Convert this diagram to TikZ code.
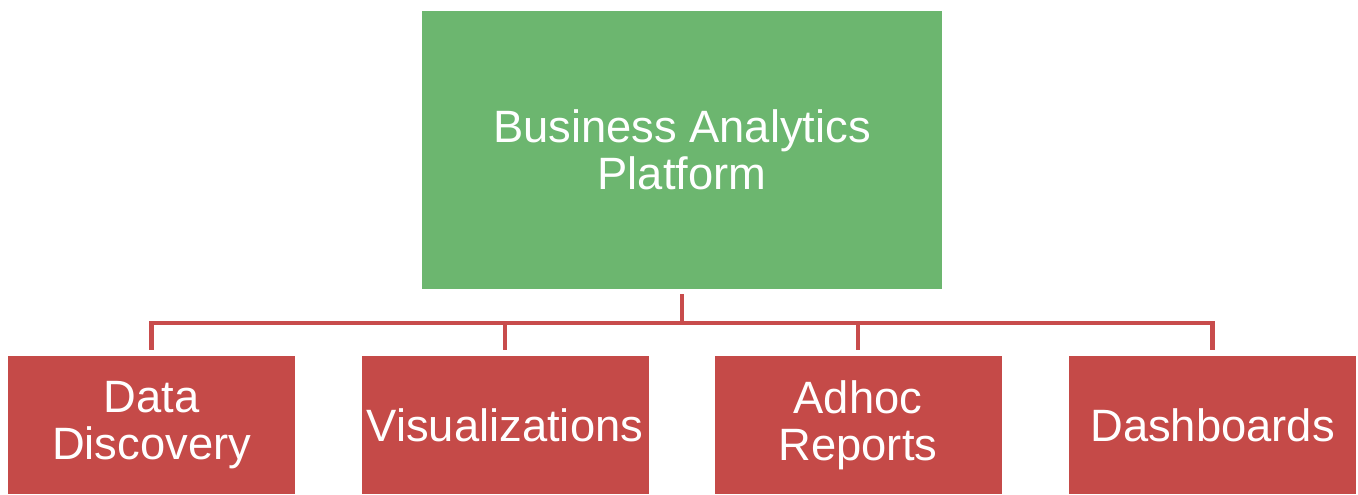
\documentclass[tikz,border=0pt]{standalone}
\usepackage{fontspec}
\setmainfont{Liberation Sans}
\usepackage{xcolor}
\definecolor{boxgreen}{RGB}{108,182,111}
\definecolor{boxred}{RGB}{197,74,72}
\definecolor{linered}{RGB}{200,76,76}
\begin{document}
\begin{tikzpicture}[x=0.75pt,y=-0.75pt]
	\tikzset{every node/.style={align=center,
			text=white,
			inner sep=0pt,
			font=\fontsize{34}{35.5}\selectfont}}
	\tikzset{root/.style = {shape=rectangle,fill=boxgreen,minimum width=390pt,minimum height=208.5pt}}
	\tikzset{leaf/.style = {shape=rectangle,fill=boxred,minimum width=215.25pt,minimum height=103.5pt}}
	\tikzset{edge/.style = {draw=linered,line width=3.2pt,shorten <=3.75pt,shorten >=4.5pt}}
    \useasboundingbox (0,0) rectangle (1358,494);
    % boxes
    \node[root] (platform) at (682,150) {Business Analytics\\Platform};
    \node[leaf] (discovery) at (151.5,425) {Data\\Discovery};
    \node[leaf] (visual) at (505,425) {Visualizations};
    \node[leaf] (adhoc) at (858,425) {Adhoc\\Reports};
    \node[leaf] (dash) at (1212.5,425) {Dashboards};
    % connectors
    \foreach \child in {discovery,visual,adhoc,dash}
        \draw[edge] (platform.south) -- ++(0,34) -| (\child.north);
\end{tikzpicture}
\end{document}
